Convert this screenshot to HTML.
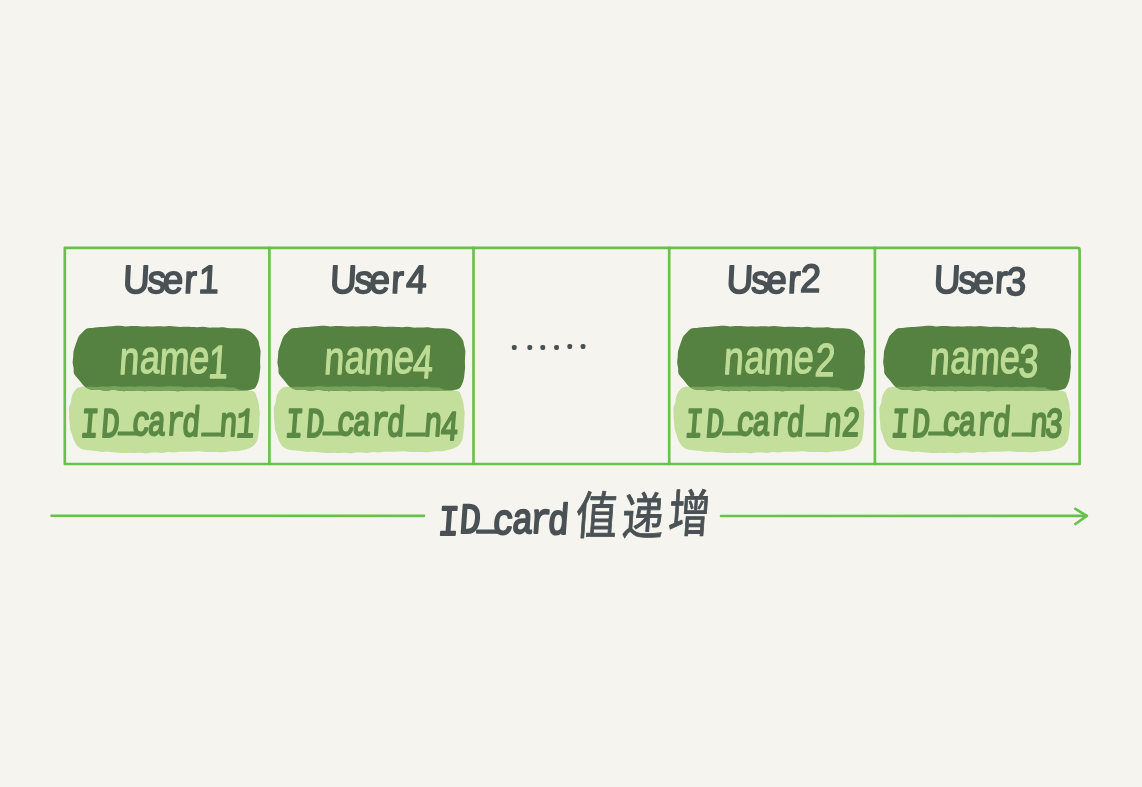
<!DOCTYPE html>
<html lang="zh">
<head>
<meta charset="utf-8">
<title>ID_card值递增</title>
<style>
html,body{margin:0;padding:0;background:#f5f4ef;}
body{width:1142px;height:787px;overflow:hidden;}
svg{display:block;will-change:transform;}
text{white-space:pre;font-family:"Liberation Sans", "Noto Sans CJK SC", sans-serif;stroke-linejoin:round;stroke-linecap:round;}
</style>
</head>
<body>
<svg width="1142" height="787" viewBox="0 0 1142 787">
<rect width="1142" height="787" fill="#f5f4ef"/>
<defs><path id="pd" d="M86.8 328.5C88.4 327.8 90.5 328.1 92.3 327.9C94.2 327.6 96 327.4 97.8 327.2C99.7 327.1 101.5 327.1 103.3 327C105.2 326.9 107 326.7 108.8 326.6C110.7 326.4 112.5 326 114.3 325.9C116.2 325.8 118 325.7 119.9 325.8C121.7 325.9 123.5 326.4 125.4 326.4C127.2 326.5 129.1 326 130.9 326C132.7 325.9 134.6 325.8 136.4 326C138.2 326.1 140.1 326.6 141.9 326.6C143.8 326.7 145.6 326.2 147.4 326.2C149.3 326.2 151.1 326.5 153 326.5C154.8 326.6 156.6 326.3 158.5 326.3C160.3 326.3 162.1 326.5 164 326.5C165.8 326.4 167.7 326.1 169.5 326.1C171.3 326.1 173.2 326.5 175 326.6C176.9 326.7 178.7 326.9 180.5 326.9C182.4 326.9 184.2 326.7 186 326.8C187.9 326.8 189.7 327 191.6 327.1C193.4 327.2 195.2 327.2 197.1 327.2C198.9 327.1 200.8 326.8 202.6 326.8C204.4 326.9 206.3 327.4 208.1 327.6C209.9 327.7 211.8 327.6 213.6 327.6C215.5 327.6 217.3 327.5 219.1 327.5C221 327.5 222.8 327.3 224.7 327.4C226.5 327.6 228.3 328.2 230.1 328.3C232 328.4 233.8 328.1 235.7 328.2C237.5 328.2 239.4 328.2 241.2 328.5C243 328.7 244.8 328.9 246.4 329.6C248.1 330.2 249.7 331.2 251.2 332.3C252.6 333.3 254 334.5 255.2 335.9C256.4 337.2 257.5 338.8 258.2 340.4C258.9 342.1 259 344 259.4 345.8C259.8 347.6 260.4 349.4 260.6 351.2C260.7 353 260.3 354.9 260.3 356.7C260.2 358.5 260.1 360.4 260.1 362.2C260.1 364 260.4 365.9 260.3 367.7C260.2 369.6 259.9 371.4 259.7 373.2C259.5 375.1 259.4 376.9 259 378.7C258.6 380.5 258.1 382.3 257.3 383.9C256.6 385.6 255.8 387.5 254.4 388.4C253.1 389.4 251 389.6 249.3 389.9C247.5 390.3 245.6 390.4 243.8 390.5C241.9 390.6 240.1 390.5 238.3 390.5C236.4 390.5 234.6 390.6 232.7 390.7C230.9 390.7 229.1 390.8 227.2 390.8C225.4 390.7 223.5 390.6 221.7 390.6C219.9 390.6 218 390.7 216.2 390.7C214.4 390.6 212.5 390.4 210.7 390.4C208.8 390.4 207 390.7 205.2 390.7C203.3 390.7 201.5 390.5 199.6 390.5C197.8 390.5 196 390.6 194.1 390.6C192.3 390.6 190.4 390.5 188.6 390.5C186.8 390.5 184.9 390.7 183.1 390.8C181.3 390.9 179.4 391.3 177.6 391.2C175.7 391.2 173.9 390.8 172.1 390.7C170.2 390.6 168.4 390.6 166.5 390.6C164.7 390.6 162.9 390.6 161 390.7C159.2 390.7 157.4 390.9 155.5 390.9C153.7 391 151.8 390.8 150 390.8C148.2 390.8 146.3 391.2 144.5 391.2C142.6 391.2 140.8 390.7 139 390.6C137.1 390.6 135.3 390.7 133.5 390.8C131.6 390.9 129.8 390.9 127.9 391C126.1 391 124.3 391.2 122.4 391.1C120.6 391 118.7 390.5 116.9 390.3C115.1 390.2 113.2 390 111.4 390.1C109.6 390.2 107.7 390.8 105.9 390.8C104 390.7 102.2 390.1 100.4 390C98.5 389.9 96.7 390.1 94.9 390C93 389.8 91.1 389.8 89.4 389.2C87.6 388.6 86 387.6 84.5 386.4C83.1 385.2 82.1 383.7 80.9 382.3C79.7 380.9 78.4 379.5 77.3 378.1C76.2 376.6 74.7 375.3 74 373.6C73.4 371.9 73.8 369.9 73.6 368.1C73.3 366.2 72.7 364.4 72.6 362.6C72.6 360.8 73.1 358.9 73.2 357.1C73.4 355.2 73.2 353.4 73.5 351.6C73.9 349.8 74.6 348 75.1 346.3C75.7 344.5 76.3 342.8 76.9 341.1C77.6 339.4 78 337.5 79 336C80 334.5 81.5 333.3 82.8 332C84.1 330.8 85.3 329.2 86.8 328.5Z"/><path id="pl" d="M80.4 386.9C81.8 386.7 84.1 386.9 85.9 386.9C87.7 386.8 89.5 386.8 91.4 386.8C93.2 386.8 95 386.9 96.8 386.9C98.7 386.8 100.5 386.7 102.3 386.6C104.1 386.6 106 386.9 107.8 386.8C109.6 386.7 111.4 386.1 113.3 386C115.1 385.9 116.9 386.2 118.7 386.4C120.6 386.5 122.4 386.8 124.2 386.8C126.1 386.8 127.9 386.6 129.7 386.6C131.5 386.6 133.4 386.9 135.2 386.8C137 386.7 138.8 386.2 140.7 386.2C142.5 386.1 144.3 386.5 146.1 386.5C148 386.5 149.8 386.3 151.6 386.4C153.4 386.4 155.3 386.6 157.1 386.7C158.9 386.7 160.7 386.8 162.6 386.7C164.4 386.7 166.2 386.3 168.1 386.3C169.9 386.3 171.7 386.5 173.5 386.5C175.4 386.6 177.2 386.5 179 386.6C180.8 386.7 182.7 387.1 184.5 387.2C186.3 387.3 188.1 387.2 190 387.1C191.8 387 193.6 386.7 195.5 386.7C197.3 386.7 199.1 387.2 200.9 387.3C202.7 387.3 204.6 386.8 206.4 386.7C208.2 386.7 210.1 387.2 211.9 387.2C213.7 387.2 215.5 386.9 217.4 386.8C219.2 386.7 221 386.6 222.8 386.7C224.7 386.8 226.5 387.4 228.3 387.6C230.1 387.7 232.1 387.2 233.8 387.5C235.6 387.8 237.1 389 238.8 389.4C240.5 389.9 242.4 390.1 244.2 390.3C246.1 390.5 247.9 390.1 249.7 390.4C251.4 390.7 253.5 390.9 254.7 392C255.9 393.2 256.1 395.4 256.7 397.1C257.3 398.8 258 400.5 258.4 402.3C258.8 404 258.9 405.9 259.1 407.7C259.4 409.5 259.9 411.3 259.9 413.1C260 414.9 259.5 416.8 259.5 418.6C259.4 420.4 259.6 422.3 259.5 424.1C259.4 425.9 259.2 427.7 258.9 429.5C258.7 431.3 258.6 433.1 258.3 434.9C258 436.7 257.9 438.6 257.3 440.3C256.6 442 255.5 443.6 254.2 444.9C253 446.2 251.4 447.3 249.7 448.1C248.1 448.9 246.3 449.3 244.5 449.8C242.7 450.2 240.9 450.6 239.1 450.9C237.3 451.1 235.4 451.2 233.6 451.3C231.8 451.4 229.9 451.4 228.1 451.5C226.3 451.7 224.5 452.3 222.7 452.3C220.8 452.4 219 451.9 217.2 451.9C215.3 451.8 213.5 452.1 211.7 452.1C209.9 452.1 208 452.1 206.2 452C204.4 451.8 202.6 451.4 200.8 451.4C198.9 451.3 197.1 451.5 195.3 451.6C193.4 451.7 191.6 451.7 189.8 451.8C188 451.8 186.1 451.7 184.3 451.7C182.5 451.7 180.7 451.6 178.8 451.7C177 451.8 175.2 452.4 173.4 452.5C171.5 452.5 169.7 451.8 167.9 451.9C166 452 164.2 452.8 162.4 452.9C160.6 453 158.8 452.6 156.9 452.5C155.1 452.4 153.3 452.4 151.5 452.6C149.6 452.7 147.8 453.4 146 453.4C144.2 453.4 142.3 452.8 140.5 452.8C138.7 452.7 136.8 453 135 453C133.2 453 131.4 452.7 129.6 452.7C127.7 452.7 125.9 453 124.1 453C122.2 452.9 120.4 452.8 118.6 452.7C116.8 452.6 114.9 452.5 113.1 452.3C111.3 452.1 109.5 451.5 107.7 451.4C105.8 451.4 104 451.9 102.2 451.9C100.3 451.8 98.5 451.4 96.7 451.1C94.9 450.9 93.1 450.8 91.3 450.6C89.5 450.4 87.6 450.3 85.9 450C84.1 449.6 82.2 449.3 80.7 448.5C79.1 447.6 77.6 446.3 76.5 444.9C75.4 443.5 74.6 441.7 73.8 440.1C73.1 438.4 72.8 436.6 72.2 434.9C71.6 433.1 70.7 431.5 70.3 429.7C69.9 427.9 70 426 69.8 424.2C69.6 422.4 69.3 420.6 69.2 418.8C69.1 417 69.1 415.2 69.1 413.3C69.1 411.5 68.7 409.6 69 407.8C69.3 406 70.4 404.4 70.9 402.6C71.3 400.8 71.1 398.9 71.6 397.1C72.1 395.4 72.8 393.6 73.8 392.1C74.8 390.6 76.3 388.8 77.4 388C78.5 387.1 79 387.1 80.4 386.9Z"/><clipPath id="cd"><use href="#pd"/></clipPath></defs>
<g id="lines" fill="none" stroke="#68c14a" stroke-width="2.65" stroke-linejoin="round" stroke-linecap="round">
<path d="M64.8 247.9 H1077.6 Q1079.6 247.9 1079.6 249.9 V463.95 H64.8 Z"/>
<path d="M269.4 247.9 V463.95"/>
<path d="M473.5 247.9 V463.95"/>
<path d="M669.2 247.9 V463.95"/>
<path d="M874.9 247.9 V463.95"/>
<path d="M51.5 515.7 L424 515.8"/>
<path d="M721 516 L1086.5 515.9"/>
<path d="M1075.4 508.8 L1086.8 515.9 L1075.4 524"/>
</g>
<g id="pill-1" transform="translate(0.0 0)"><use href="#pl" fill="#c3df9b"/><use href="#pd" fill="#558240"/><use href="#pl" fill="#78a35c" clip-path="url(#cd)"/></g>
<text id="t-user1" transform="scale(0.93 1) skewX(-3)" fill="#4a5155" stroke="#4a5155" stroke-width="1.7" font-size="39.5" x="147.13 173.51 189.8 213.01 228.31" y="293.36 293.36 293.36 293.35 293.49">User1</text>
<text id="t-name1" transform="scale(0.77 1) skewX(-5)" fill="#bddb95" stroke="#bddb95" stroke-width="1.3" font-size="46.5" x="186.77 213.56 238.84 277.43 302.56" y="373.95 373.1 374.35 372.9 377.75">name1</text>
<text id="t-id1" transform="scale(0.72 1) skewX(-6)" fill="#5b8946" stroke="#5b8946" stroke-width="2.1" font-size="42" style='font-family:"Liberation Mono", "Noto Sans CJK SC", monospace' x="156.64 185.51 210.25 228.09 250 275.57 297.68 326.16 349.33 372.98" y="436.55 436.95 430.47 434.74 434.74 434.95 436.4 431.27 435.95 437.13">ID_card_n1</text>
<g id="pill-4" transform="translate(204.8 0)"><use href="#pl" fill="#c3df9b"/><use href="#pd" fill="#558240"/><use href="#pl" fill="#78a35c" clip-path="url(#cd)"/></g>
<text id="t-user4" transform="scale(0.93 1) skewX(-3)" fill="#4a5155" stroke="#4a5155" stroke-width="1.7" font-size="39.5" x="369.6 395.98 412.27 435.48 451.7" y="293.36 293.36 293.36 293.35 293.29">User4</text>
<text id="t-name4" transform="scale(0.77 1) skewX(-5)" fill="#bddb95" stroke="#bddb95" stroke-width="1.3" font-size="46.5" x="452.75 479.53 504.81 543.4 568.53" y="373.95 373.1 374.35 372.9 378.4">name4</text>
<text id="t-id4" transform="scale(0.72 1) skewX(-6)" fill="#5b8946" stroke="#5b8946" stroke-width="2.1" font-size="42" style='font-family:"Liberation Mono", "Noto Sans CJK SC", monospace' x="441.08 469.96 494.69 512.54 534.44 560.01 582.12 610.61 633.78 656.59" y="436.55 436.95 430.47 434.74 434.74 434.95 436.4 431.27 435.95 440.13">ID_card_n4</text>
<g id="pill-2" transform="translate(604.5 0)"><use href="#pl" fill="#c3df9b"/><use href="#pd" fill="#558240"/><use href="#pl" fill="#78a35c" clip-path="url(#cd)"/></g>
<text id="t-user2" transform="scale(0.93 1) skewX(-3)" fill="#4a5155" stroke="#4a5155" stroke-width="1.7" font-size="39.5" x="796.16 822.54 838.83 862.04 875.16" y="293.36 293.36 293.36 293.35 292.09">User2</text>
<text id="t-name2" transform="scale(0.77 1) skewX(-5)" fill="#bddb95" stroke="#bddb95" stroke-width="1.3" font-size="46.5" x="971.84 998.62 1023.9 1062.5 1090.31" y="373.95 373.1 374.35 372.9 376.08">name2</text>
<text id="t-id2" transform="scale(0.72 1) skewX(-6)" fill="#5b8946" stroke="#5b8946" stroke-width="2.1" font-size="42" style='font-family:"Liberation Mono", "Noto Sans CJK SC", monospace' x="996.22 1025.09 1049.83 1067.68 1089.58 1115.15 1137.26 1165.75 1188.92 1213.82" y="436.55 436.95 430.47 434.74 434.74 434.95 436.4 431.27 435.95 436.45">ID_card_n2</text>
<g id="pill-3" transform="translate(810.5 0)"><use href="#pl" fill="#c3df9b"/><use href="#pd" fill="#558240"/><use href="#pl" fill="#78a35c" clip-path="url(#cd)"/></g>
<text id="t-user3" transform="scale(0.93 1) skewX(-3)" fill="#4a5155" stroke="#4a5155" stroke-width="1.7" font-size="39.5" x="1018.85 1045.23 1061.52 1084.73 1096.44" y="293.36 293.36 293.36 293.35 294.65">User3</text>
<text id="t-name3" transform="scale(0.77 1) skewX(-5)" fill="#bddb95" stroke="#bddb95" stroke-width="1.3" font-size="46.5" x="1239.37 1266.16 1291.43 1330.03 1354.85" y="373.95 373.1 374.35 372.9 377.26">name3</text>
<text id="t-id3" transform="scale(0.72 1) skewX(-6)" fill="#5b8946" stroke="#5b8946" stroke-width="2.1" font-size="42" style='font-family:"Liberation Mono", "Noto Sans CJK SC", monospace' x="1282.33 1311.21 1335.94 1353.79 1375.69 1401.26 1423.37 1451.86 1475.03 1496.02" y="436.55 436.95 430.47 434.74 434.74 434.95 436.4 431.27 435.95 436.59">ID_card_n3</text>
<text id="t-dots" transform="scale(1.0 1)" fill="#4a5155" stroke="#4a5155" stroke-width="3.8" font-size="11" x="512.87 528.17 541.17 554.97 568.37 581.57" y="348.39 347.59 347.89 348.19 346.89 346.89">......</text>
<text id="t-label" transform="scale(0.82 1) skewX(-5)" fill="#4a5155" stroke="#4a5155"><tspan stroke-width="2.1" font-size="43" style='font-family:"Liberation Mono", "Noto Sans CJK SC", monospace' x="579.97 606 628.22 646.69 670.24 692.16 713.81" y="535.26 533.41 527.59 534.13 533.13 532.95 534.46">ID_card</tspan><tspan stroke-width="0.9" font-size="51" x="747.27 803.91 860.24" y="533.88 534.54 532.01">值递增</tspan></text>
</svg>
</body>
</html>
